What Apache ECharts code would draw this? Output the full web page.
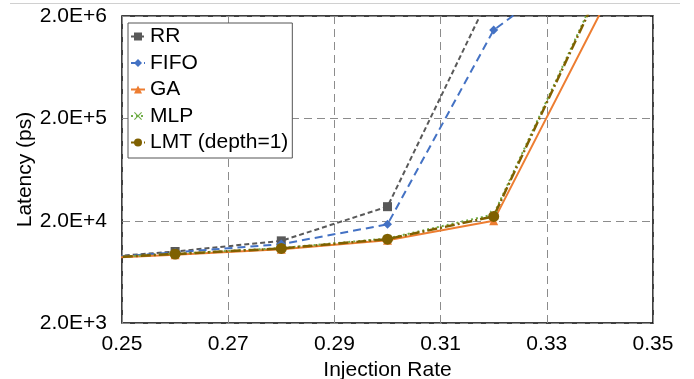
<!DOCTYPE html>
<html>
<head>
<meta charset="utf-8">
<script src="https://cdn.jsdelivr.net/npm/echarts@6/dist/echarts.min.js"></script>
<style>
  html, body { margin: 0; padding: 0; background: #fff; }
  #chart { width: 694px; height: 379px; }
</style>
</head>
<body>
<div id="chart"></div>
<script>
// injection rates (the 0.24 point sits left of the axis and gets clipped)
const rates = [0.24, 0.26, 0.28, 0.30, 0.32, 0.34];

const rr = [8300, 10000, 12700, 27400, 3800000];
const fifo = [8200, 9800, 11800, 18400, 1460000, 8500000];
const ga = [8300, 9300, 10500, 12900, 20000, 2100000];
const mlp = [8350, 9500, 10800, 13400, 23000, 3900000];
const lmt = [8350, 9450, 10700, 13200, 22000, 3700000];

const xTicks = [0.25, 0.27, 0.29, 0.31, 0.33, 0.35];

const crossPath = "path://M1,0L5,4L9,0L10,1L6,5L10,9L9,10L5,6L1,10L0,9L4,5L0,1Z";
const font = "'Liberation Sans', Arial, Helvetica, sans-serif";

function series(name, values, color, symbol, size, lineType, width) {
  return {
    name: name,
    type: "line",
    data: values.map((v, i) => [rates[i], v]),
    symbol: symbol,
    symbolSize: size,
    showAllSymbol: true,
    clip: true,
    itemStyle: { color: color },
    lineStyle: { color: color, width: width, type: lineType },
    emphasis: { disabled: true },
  };
}

const chart = echarts.init(document.getElementById("chart"));

const options = {
  animation: false,
  textStyle: { fontFamily: font },
  graphic: [
    {
      type: "line",
      shape: { x1: 10, y1: 3.5, x2: 680, y2: 3.5 },
      style: { stroke: "#d0d0d0", lineWidth: 1 },
    },
  ],
  grid: {
    left: 122,
    right: 41,
    top: 16,
    bottom: 56,
    outerBoundsMode: "none",
    containLabel: false,
    show: true,
    borderColor: "#000",
    borderWidth: 1.5,
  },
  legend: {
    orient: "vertical",
    left: 128,
    top: 23,
    padding: [3, 4, 5, 2],
    itemGap: 5.5,
    itemWidth: 14,
    itemHeight: 10,
    backgroundColor: "#fff",
    borderColor: "#555",
    borderWidth: 1,
    textStyle: { fontSize: 21, color: "#000", fontFamily: font, lineHeight: 20 },
    data: ["RR", "FIFO", "GA", "MLP", "LMT (depth=1)"],
  },
  xAxis: {
    type: "value",
    min: xTicks[0],
    max: xTicks[xTicks.length - 1],
    interval: 0.02,
    name: "Injection Rate",
    nameLocation: "middle",
    nameGap: 35,
    nameTextStyle: { fontSize: 21, color: "#000" },
    axisLine: { show: false },
    axisTick: { show: false },
    axisLabel: {
      fontSize: 21,
      color: "#000",
      margin: 11,
      formatter: (v) => v.toFixed(2),
    },
    splitLine: {
      show: true,
      lineStyle: { color: "#8c8c8c", width: 1, type: [8, 5] },
    },
  },
  yAxis: {
    type: "log",
    logBase: 10,
    min: 2000,
    max: 2000000,
    interval: 1,
    name: "Latency (ps)",
    nameLocation: "middle",
    nameGap: 86,
    nameMoveOverlap: false,
    nameTextStyle: { fontSize: 21, color: "#000" },
    axisLine: { show: false },
    axisTick: { show: false },
    axisLabel: {
      fontSize: 21,
      color: "#000",
      margin: 15,
      formatter: (v) => Number(v).toExponential(1).toUpperCase(),
    },
    splitLine: {
      show: true,
      lineStyle: { color: "#8c8c8c", width: 1, type: [8, 5] },
    },
  },
  series: [
    series("RR", rr, "#595959", "rect", 9, [5, 3], 2),
    series("FIFO", fifo, "#4472c4", "diamond", 9, [8, 5], 2),
    series("GA", ga, "#ed7d31", "triangle", 9, "solid", 2),
    series("MLP", mlp, "#70ad47", crossPath, 8, [2, 3], 2),
    series("LMT (depth=1)", lmt, "#7f6000", "circle", 11, [10, 3, 2, 3], 2.5),
  ],
};

chart.setOption(options);
</script>
</body>
</html>
